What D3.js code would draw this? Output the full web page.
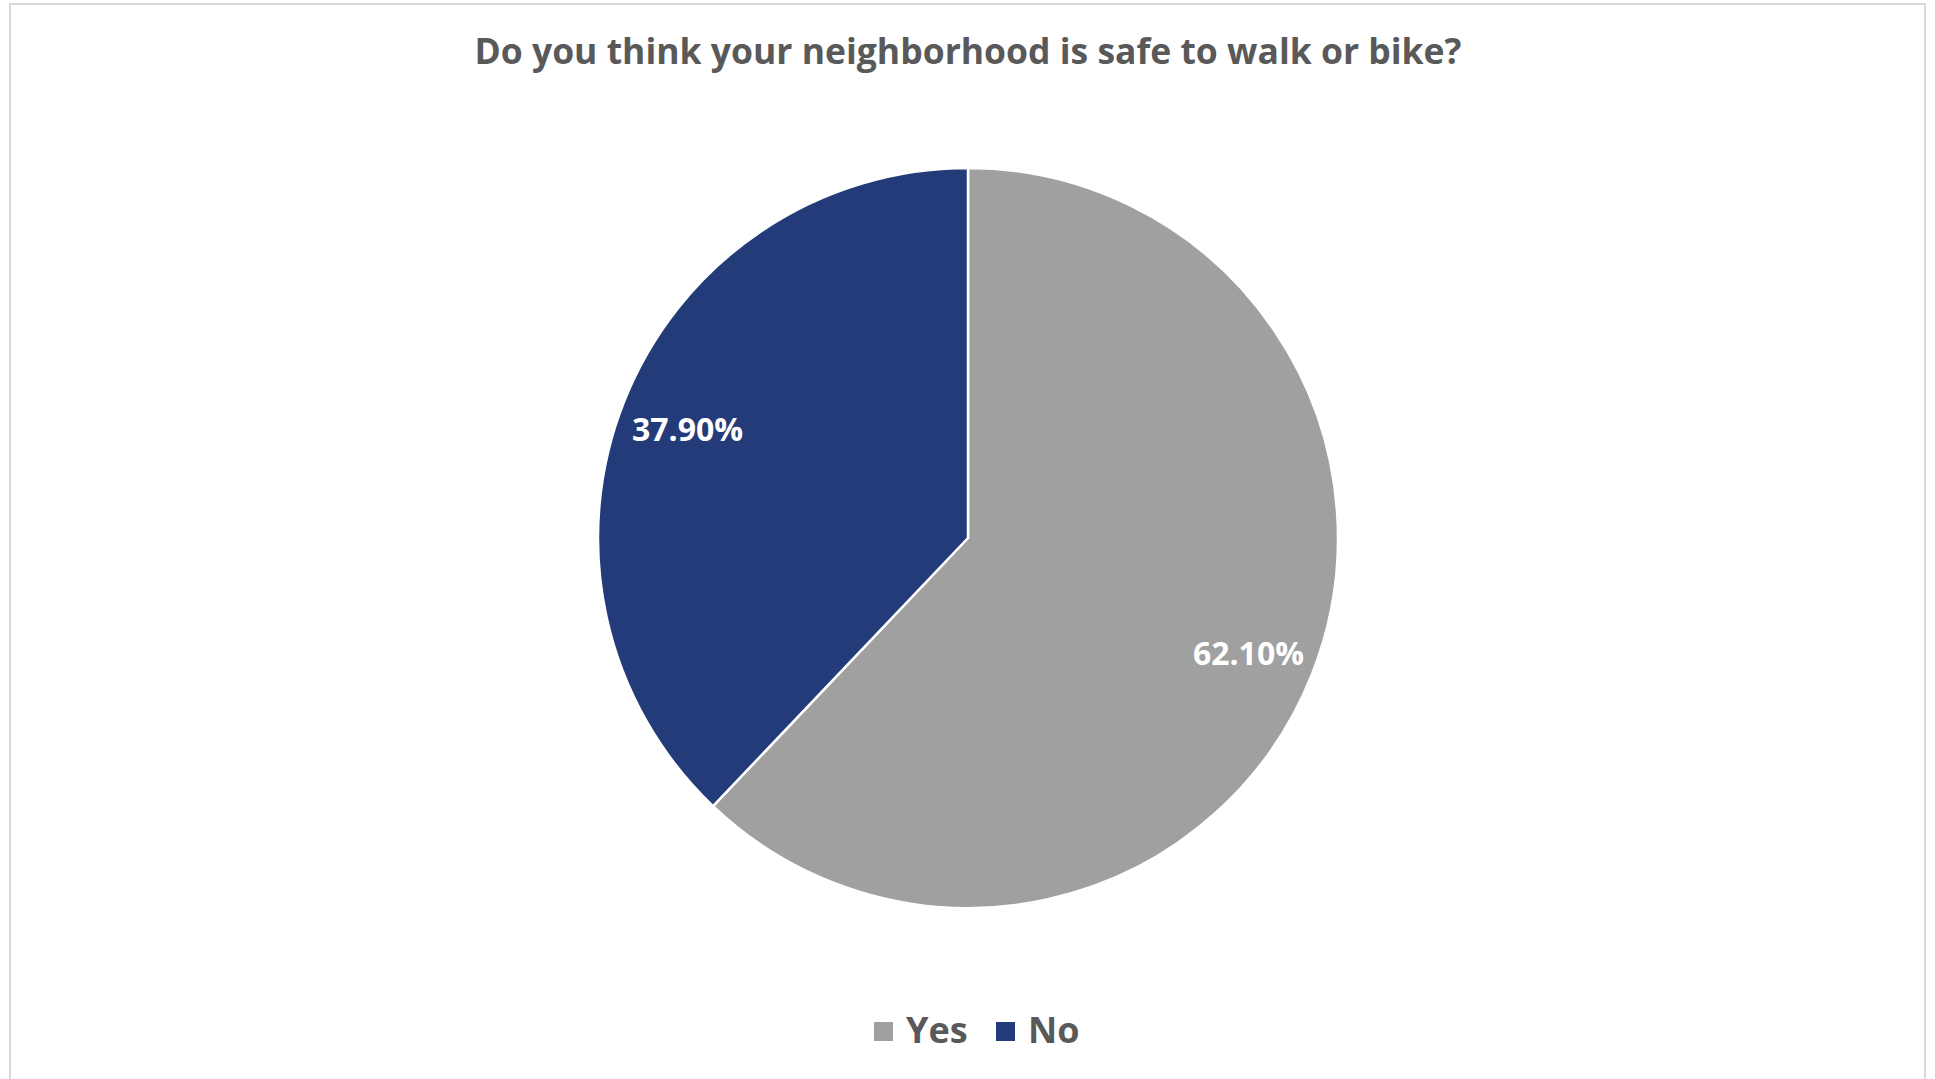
<!DOCTYPE html>
<html>
<head>
<meta charset="utf-8">
<script src="https://cdn.jsdelivr.net/npm/d3@7"></script>
<style>
  html, body { margin: 0; padding: 0; background: #ffffff; }
  svg { display: block; }
</style>
</head>
<body>
<svg id="chart" width="1935" height="1079"></svg>
<script>
// Survey answers and their shares (percent)
const categories = ["Yes", "No"];
const shares = [62.10, 37.90];
const colors = ["#A0A0A0", "#243B7A"];
const title = "Do you think your neighborhood is safe to walk or bike?";

const width = 1935, height = 1079;
const cx = 968, cy = 538, radius = 370;

const svg = d3.select("#chart");

// chart area frame
svg.append("rect")
  .attr("x", 10).attr("y", 4)
  .attr("width", 1915).attr("height", height + 10)
  .attr("fill", "#ffffff")
  .attr("stroke", "#D9D9D9")
  .attr("stroke-width", 2);

svg.append("text")
  .attr("x", cx).attr("y", 64)
  .attr("text-anchor", "middle")
  .attr("font-family", "'Open Sans', sans-serif")
  .attr("font-weight", 700)
  .attr("font-size", 35.5)
  .attr("fill", "#595959")
  .text(title);

const data = categories.map((c, i) => ({ category: c, value: shares[i], color: colors[i] }));

const pie = d3.pie().sort(null).value(d => d.value);
const arcs = pie(data);

const arc = d3.arc().innerRadius(0).outerRadius(radius);
const labelArc = d3.arc().innerRadius(234).outerRadius(radius);

const g = svg.append("g").attr("transform", `translate(${cx},${cy})`);

g.selectAll("path.slice")
  .data(arcs)
  .join("path")
  .attr("class", "slice")
  .attr("d", arc)
  .attr("fill", d => d.data.color)
  .attr("stroke", "#ffffff")
  .attr("stroke-width", 2.5)
  .attr("stroke-linejoin", "round");

g.selectAll("text.value")
  .data(arcs)
  .join("text")
  .attr("class", "value")
  .attr("transform", d => `translate(${labelArc.centroid(d)})`)
  .attr("text-anchor", "middle")
  .attr("dy", "0.48em")
  .attr("font-family", "'Open Sans', sans-serif")
  .attr("font-weight", 700)
  .attr("font-size", 32)
  .attr("fill", "#ffffff")
  .text(d => d.data.value.toFixed(2) + "%");

// legend
const legendItems = [
  { x: 874, textX: 906 },
  { x: 996, textX: 1028 }
];
const legend = svg.append("g");
data.forEach((d, i) => {
  legend.append("rect")
    .attr("x", legendItems[i].x).attr("y", 1022)
    .attr("width", 19).attr("height", 19)
    .attr("fill", d.color);
  legend.append("text")
    .attr("x", legendItems[i].textX).attr("y", 1043)
    .attr("font-family", "'Open Sans', sans-serif")
    .attr("font-weight", 700)
    .attr("font-size", 36)
    .attr("fill", "#595959")
    .text(d.category);
});
</script>
</body>
</html>
